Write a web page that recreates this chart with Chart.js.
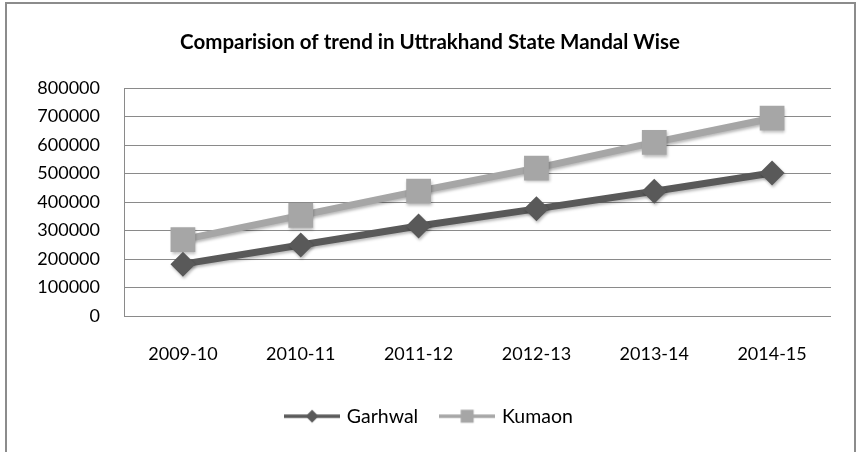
<!DOCTYPE html>
<html>
<head>
<meta charset="utf-8">
<script src="https://cdn.jsdelivr.net/npm/chart.js@4.4.1/dist/chart.umd.min.js"></script>
<style>
  html, body { margin: 0; padding: 0; background: #fff; }
  #wrap { position: relative; width: 860px; height: 452px; overflow: hidden; }
  #frame { position: absolute; left: 5px; top: 2px; width: 851px; height: 520px; border: 2px solid #8c8c8c; box-sizing: border-box; pointer-events: none; }
  canvas { position: absolute; left: 0; top: 0; }
</style>
</head>
<body>
<div id="wrap">
  <canvas id="c" width="860" height="452"></canvas>
  <div id="frame"></div>
</div>
<script>
const categories = ['2009-10', '2010-11', '2011-12', '2012-13', '2013-14', '2014-15'];
const garhwal = [182000, 249000, 316000, 376000, 438000, 502000];
const kumaon = [268000, 353000, 438000, 519000, 609000, 694000];
const yTicks = [0, 100000, 200000, 300000, 400000, 500000, 600000, 700000, 800000];
const titleText = 'Comparision of trend in Uttrakhand State Mandal Wise';

const FONT = "Lato, 'Open Sans', sans-serif";

function legendIcon(color, shape) {
  const cv = document.createElement('canvas');
  cv.width = 56; cv.height = 16;
  const g = cv.getContext('2d');
  g.strokeStyle = color; g.lineWidth = 3.5;
  g.beginPath(); g.moveTo(0, 8); g.lineTo(56, 8); g.stroke();
  g.fillStyle = color;
  if (shape === 'diamond') {
    g.beginPath(); g.moveTo(28, 1.5); g.lineTo(34.5, 8); g.lineTo(28, 14.5); g.lineTo(21.5, 8); g.closePath(); g.fill();
  } else {
    g.fillRect(21.5, 1.5, 13, 13);
  }
  return cv;
}

const shadowPlugin = {
  id: 'shadow',
  beforeDatasetsDraw(chart) {
    const ctx = chart.ctx; ctx.save();
    ctx.shadowColor = 'rgba(0,0,0,0.28)'; ctx.shadowBlur = 3; ctx.shadowOffsetX = 1; ctx.shadowOffsetY = 2;
  },
  afterDatasetsDraw(chart) { chart.ctx.restore(); }
};

new Chart(document.getElementById('c'), {
  type: 'line',
  data: {
    labels: categories,
    datasets: [
      {
        label: 'Garhwal', data: garhwal,
        borderColor: '#595959', backgroundColor: '#595959',
        borderWidth: 7, pointStyle: 'rectRot', pointRadius: 12.5, pointHoverRadius: 12.5,
        pointBackgroundColor: '#595959', pointBorderWidth: 0, tension: 0
      },
      {
        label: 'Kumaon', data: kumaon,
        borderColor: '#a6a6a6', backgroundColor: '#a6a6a6',
        borderWidth: 7, pointStyle: 'rect', pointRadius: 17.5, pointHoverRadius: 17.5,
        pointBackgroundColor: '#a6a6a6', pointBorderWidth: 0, tension: 0
      }
    ]
  },
  options: {
    responsive: false, animation: false, devicePixelRatio: 1,
    layout: { padding: { left: 0, right: 0, top: 0, bottom: 16 } },
    plugins: {
      title: {
        display: true, text: titleText, color: '#000',
        font: { family: FONT, size: 20.5, weight: 'bold' },
        padding: { top: 29.7, bottom: 33.7 }
      },
      legend: {
        position: 'bottom',
        labels: {
          color: '#000', font: { family: FONT, size: 19.5 },
          usePointStyle: true, pointStyleWidth: 50, boxHeight: 16, padding: 24,
          generateLabels(chart) {
            return [
              { text: 'Garhwal', pointStyle: legendIcon('#595959', 'diamond'), fillStyle: '#595959', strokeStyle: '#595959', lineWidth: 0, fontColor: '#000', datasetIndex: 0 },
              { text: 'Kumaon', pointStyle: legendIcon('#a6a6a6', 'square'), fillStyle: '#a6a6a6', strokeStyle: '#a6a6a6', lineWidth: 0, fontColor: '#000', datasetIndex: 1 }
            ];
          }
        }
      },
      tooltip: { enabled: false }
    },
    scales: {
      x: {
        offset: true,
        grid: { display: false, drawTicks: false },
        border: { display: false },
        ticks: { color: '#000', font: { family: FONT, size: 18 }, padding: 27, maxRotation: 0 },
        afterFit(s) { s.height = 66.5; }
      },
      y: {
        min: 0, max: 800000,
        afterBuildTicks(s) { s.ticks = yTicks.map(v => ({ value: v })); },
        grid: { color: '#8a8a8a', lineWidth: 1, drawTicks: false },
        border: { display: true, color: '#8a8a8a', width: 1 },
        ticks: { color: '#000', font: { family: FONT, size: 18 }, padding: 24, callback: (v) => String(v) },
        afterFit(s) { s.width = 124; }
      },
      yRight: {
        position: 'right', display: true, min: 0, max: 800000,
        grid: { display: false, drawTicks: false },
        border: { display: false },
        ticks: { display: false },
        afterFit(s) { s.width = 29; }
      }
    }
  },
  plugins: [shadowPlugin]
});
</script>
</body>
</html>
